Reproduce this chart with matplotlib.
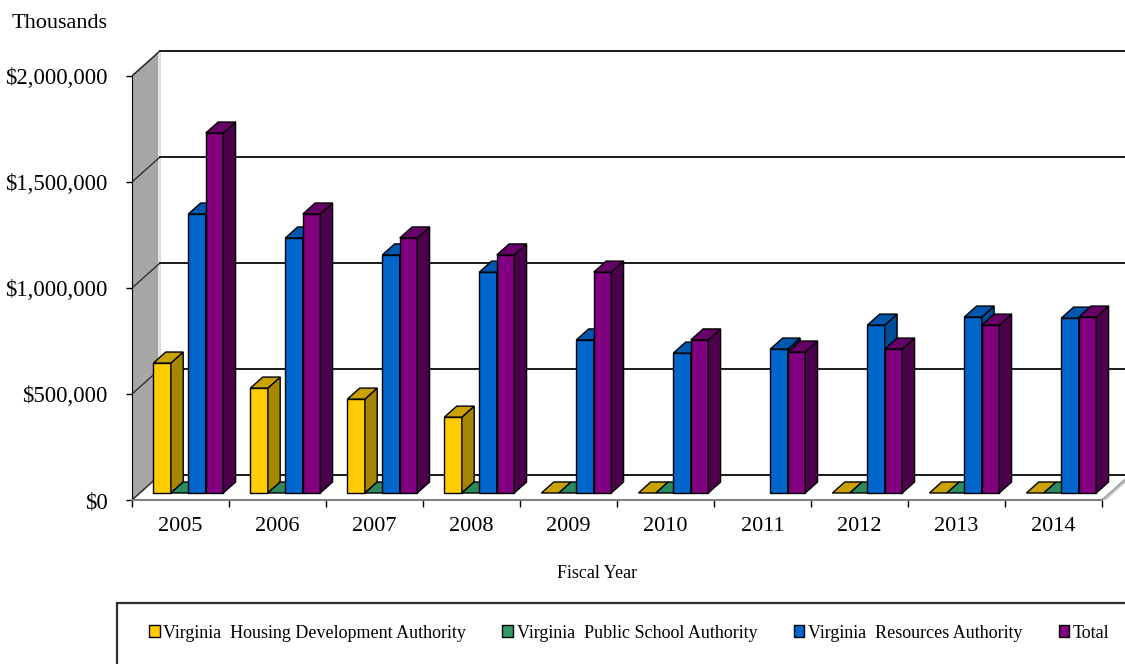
"""Bond issuance by Virginia authorities, FY2005-2014 (3-D style column chart)."""

import numpy as np
import matplotlib
matplotlib.use("Agg")
import matplotlib.pyplot as plt
from matplotlib.patches import Polygon, Rectangle, Patch

# values in thousands of dollars
years = ["2005", "2006", "2007", "2008", "2009", "2010", "2011", "2012", "2013", "2014"]
vhda = [613000, 495000, 443000, 358000, 0, 0, np.nan, 0, 0, 0]
vpsa = [0, 0, 0, 0, 0, 0, np.nan, 0, 0, 0]
vra = [1316000, 1203000, 1123000, 1042000, 722000, 660000, 679000, 792000, 830000, 825000]
total = [1698000, 1316000, 1203000, 1123000, 1042000, 722000, 665000, 679000, 792000, 830000]

series_names = [
    "Virginia  Housing Development Authority",
    "Virginia  Public School Authority",
    "Virginia  Resources Authority",
    "Total",
]
series_values = [vhda, vpsa, vra, total]
# front / side / top shades for each series
series_colors = [
    ("#FFCC00", "#A68600", "#C9A200"),
    ("#339966", "#1F6B45", "#2E8A5C"),
    ("#0066CC", "#004C99", "#0057AE"),
    ("#800080", "#4C004C", "#660066"),
]
yticks = [0, 500000, 1000000, 1500000, 2000000]

plt.rcParams["font.family"] = ["Liberation Serif", "DejaVu Serif"]

W, H = 1125, 664
fig = plt.figure(figsize=(W / 100, H / 100), dpi=100)

# front plane: x from 132px to 1102px (10 categories), y $0 at 500px, $2M at 76px
cat_px = 97.0
val_px = 212.0 / 1e6
top_px = 45
ax = fig.add_axes([132 / W, (H - 500) / H, (W - 132) / W, (500 - top_px) / H])
ax.set_xlim(0, (W - 132) / cat_px)
ax.set_ylim(0, (500 - top_px) / val_px)

# depth offsets of the back wall, in data units
DX = 28 / cat_px
DY = 25 / val_px
n = len(years)
ymax = yticks[-1]

# left side wall
ax.add_patch(Polygon([(0, 0), (DX, DY), (DX, ymax + DY), (0, ymax)],
                     closed=True, facecolor="#A6A6A6", edgecolor="#404040", lw=1, zorder=1))
ax.plot([DX - 0.01, DX - 0.01], [DY, ymax + DY], color="#E6E6E6", lw=2, zorder=1.2)
for v in yticks:
    ax.plot([0, DX], [v, v + DY], color="#303030", lw=1, zorder=1.3)

# floor
ax.add_patch(Polygon([(0, 0), (n, 0), (n + DX, DY), (DX, DY)],
                     closed=True, facecolor="white", edgecolor="#A0A0A0", lw=1.2, zorder=1))
ax.plot([0, n, n + DX], [-0.004e6, -0.004e6, DY - 0.004e6], color="#C8C8C8", lw=3, zorder=0.9)

# back wall gridlines
for v in yticks:
    ax.plot([DX, ax.get_xlim()[1] + 1], [v + DY, v + DY], color="#1A1A1A", lw=1.4, zorder=1.5)

# columns
bar_w = 0.18
gap = (1 - 4 * bar_w) / 2
d_bar = 0.28   # depth position of the column fronts
t_bar = 0.44   # column thickness as a fraction of the depth


def draw_column(x0, h, colors, z):
    front, side, top = colors
    x = x0 + d_bar * DX
    y = d_bar * DY
    dx, dy = t_bar * DX, t_bar * DY
    kw = dict(closed=True, edgecolor="black", lw=1, joinstyle="miter", zorder=z)
    if h > 0:
        ax.add_patch(Polygon([(x, y), (x + bar_w, y), (x + bar_w, y + h), (x, y + h)],
                             facecolor=front, **kw))
        ax.add_patch(Polygon([(x + bar_w, y), (x + bar_w + dx, y + dy),
                              (x + bar_w + dx, y + h + dy), (x + bar_w, y + h)],
                             facecolor=side, **kw))
    ax.add_patch(Polygon([(x, y + h), (x + bar_w, y + h),
                          (x + bar_w + dx, y + h + dy), (x + dx, y + h + dy)],
                         facecolor=top, **kw))


z = 3
for c in range(n):
    for s, vals in enumerate(series_values):
        v = vals[c]
        if np.isnan(v):
            continue
        draw_column(c + gap + s * bar_w, v, series_colors[s], z)
        z += 0.01

# axes
for side in ("top", "right"):
    ax.spines[side].set_visible(False)
ax.spines["left"].set_bounds(0, ymax)
ax.spines["left"].set_zorder(2)
ax.spines["bottom"].set_bounds(0, n)
ax.spines["bottom"].set_color("#808080")
ax.spines["bottom"].set_linewidth(1.5)

ax.set_yticks(yticks)
ax.set_yticklabels([f"${v:,.0f}" for v in yticks])
ax.tick_params(axis="y", length=4, width=1, pad=13.5, labelsize=16.5)

ax.set_xticks(np.arange(n) + 0.5)
ax.set_xticklabels(years)
ax.set_xticks(np.arange(n + 1), minor=True)
ax.tick_params(axis="x", which="major", length=0, pad=12, labelsize=16)
ax.tick_params(axis="x", which="minor", length=5, width=1, color="black")

fig.text(12 / W, 1 - 23 / H, "Thousands", fontsize=16, va="center", ha="left")
fig.text(597 / W, 1 - 573 / H, "Fiscal Year", fontsize=13, va="center", ha="center")

# legend box runs off the bottom and right edges
fig.add_artist(Rectangle((117 / W, -0.2), 1.0, 0.2 + (H - 603) / H,
                         transform=fig.transFigure, fill=False,
                         edgecolor="#303030", lw=1.6))
handles = [Patch(facecolor=c[0], edgecolor="black", lw=1) for c in series_colors]
fig.legend(handles, series_names, ncol=4, loc="center left",
           bbox_to_anchor=(149 / W, 1 - 633 / H), frameon=False,
           fontsize=13, handlelength=0.6, handleheight=0.6,
           handletextpad=0.2, columnspacing=2.0, borderpad=0, borderaxespad=0)

fig.savefig("out.png", dpi=100)
